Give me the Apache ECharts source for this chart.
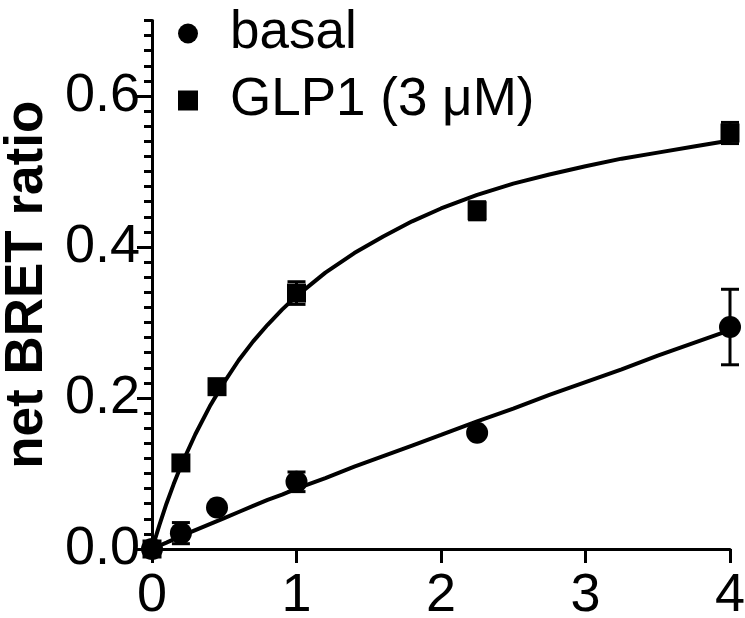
<!DOCTYPE html>
<html>
<head>
<meta charset="utf-8">
<script src="https://cdn.jsdelivr.net/npm/echarts@6/dist/echarts.min.js"></script>
<style>
  html, body { margin: 0; padding: 0; background: #fff; }
  #chart { width: 745px; height: 618px; }
</style>
</head>
<body>
<div id="chart"></div>
<script>
// measured points (x = concentration, y = net BRET ratio)
const pointX = [0, 0.2, 0.45, 1, 2.25, 4];
const basalY = [0, 0.021, 0.055, 0.089, 0.154, 0.294];
const basalErr = [0, 0.014, 0, 0.013, 0, 0.05];
const glpY = [0, 0.114, 0.215, 0.339, 0.448, 0.551];
const glpErr = [0, 0, 0, 0.015, 0.012, 0.014];

// fitted curves
const fitX = [0, 0.05, 0.1, 0.15, 0.2, 0.3, 0.4, 0.5, 0.6, 0.7, 0.8, 0.9, 1, 1.2, 1.4, 1.6, 1.8, 2, 2.25, 2.5, 2.75, 3, 3.25, 3.5, 3.75, 4];
const basalFit = [0, 0.0043, 0.0085, 0.0128, 0.017, 0.025, 0.033, 0.041, 0.049, 0.057, 0.065, 0.072, 0.08, 0.094, 0.109, 0.123, 0.137, 0.151, 0.169, 0.186, 0.204, 0.221, 0.238, 0.256, 0.273, 0.29];
const glpFit = [0, 0.031, 0.06, 0.086, 0.11, 0.152, 0.189, 0.221, 0.25, 0.275, 0.297, 0.317, 0.335, 0.366, 0.392, 0.414, 0.434, 0.451, 0.469, 0.484, 0.496, 0.507, 0.517, 0.525, 0.533, 0.541];

const xTicks = [0, 1, 2, 3, 4];
const yTicks = [0, 0.2, 0.4, 0.6];

const FONT = "'Liberation Sans', Arial, sans-serif";

const pairs = (xs, ys) => xs.map((x, i) => [x, ys[i]]);
const errRows = (ys, errs) => pointX.map((x, i) => [x, ys[i] - errs[i], ys[i] + errs[i]]).filter((r, i) => errs[i] > 0);

const renderErr = function (params, api) {
  const x = api.value(0);
  const lo = api.coord([x, api.value(1)]);
  const hi = api.coord([x, api.value(2)]);
  const cap = 9;
  const style = { stroke: '#000', lineWidth: 3 };
  return {
    type: 'group',
    children: [
      { type: 'line', shape: { x1: lo[0], y1: lo[1], x2: hi[0], y2: hi[1] }, style },
      { type: 'line', shape: { x1: hi[0] - cap, y1: hi[1], x2: hi[0] + cap, y2: hi[1] }, style },
      { type: 'line', shape: { x1: lo[0] - cap, y1: lo[1], x2: lo[0] + cap, y2: lo[1] }, style }
    ]
  };
};

const chart = echarts.init(document.getElementById('chart'), null, { renderer: 'canvas' });

chart.setOption({
  backgroundColor: '#fff',
  animation: false,
  textStyle: { fontFamily: FONT, color: '#000' },
  grid: { left: 152, right: 15, top: 20.5, bottom: 69, containLabel: false, outerBoundsMode: 'none' },
  legend: {
    orient: 'vertical',
    left: 173,
    top: 2,
    itemGap: 14,
    itemWidth: 20,
    itemHeight: 20,
    data: ['basal', 'GLP1 (3 μM)'],
    textStyle: { fontSize: 53, color: '#000', fontFamily: FONT, padding: [0, 0, 0, 27] }
  },
  xAxis: {
    type: 'value',
    min: 0,
    max: 4,
    interval: 1,
    splitLine: { show: false },
    axisLine: { show: true, onZero: false, lineStyle: { color: '#000', width: 3 } },
    axisTick: { show: true, length: 14, lineStyle: { color: '#000', width: 3 }, customValues: xTicks },
    axisLabel: { fontSize: 54, color: '#000', margin: 20, fontFamily: FONT, customValues: xTicks }
  },
  yAxis: [
    {
      // minor ticks every 0.02
      type: 'value',
      position: 'left',
      min: 0,
      max: 0.7,
      interval: 0.02,
      splitLine: { show: false },
      axisLine: { show: true, onZero: false, lineStyle: { color: '#000', width: 3 } },
      axisTick: { show: true, length: 8, lineStyle: { color: '#000', width: 3 } },
      axisLabel: { show: false }
    },
    {
      type: 'value',
      position: 'left',
      offset: 0,
      min: 0,
      max: 0.7,
      splitLine: { show: false },
      axisLine: { show: false, onZero: false },
      axisTick: { show: true, length: 15, lineStyle: { color: '#000', width: 3 }, customValues: yTicks },
      axisLabel: {
        fontSize: 54, color: '#000', margin: 12, fontFamily: FONT,
        customValues: yTicks,
        formatter: v => v.toFixed(1)
      },
      name: 'net BRET ratio',
      nameLocation: 'middle',
      nameGap: 94,
      nameTextStyle: { fontSize: 53, fontWeight: 'bold', color: '#000', fontFamily: FONT }
    }
  ],
  series: [
    {
      name: 'basal fit',
      type: 'line',
      data: pairs(fitX, basalFit),
      showSymbol: false,
      lineStyle: { color: '#000', width: 4 },
      z: 2
    },
    {
      name: 'GLP1 fit',
      type: 'line',
      data: pairs(fitX, glpFit),
      showSymbol: false,
      lineStyle: { color: '#000', width: 4 },
      z: 2
    },
    {
      name: 'basal err',
      type: 'custom',
      renderItem: renderErr,
      data: errRows(basalY, basalErr),
      z: 3
    },
    {
      name: 'GLP1 err',
      type: 'custom',
      renderItem: renderErr,
      data: errRows(glpY, glpErr),
      z: 3
    },
    {
      name: 'basal',
      type: 'scatter',
      symbol: 'circle',
      symbolSize: 22,
      itemStyle: { color: '#000', opacity: 1 },
      data: pairs(pointX, basalY),
      z: 4
    },
    {
      name: 'GLP1 (3 μM)',
      type: 'scatter',
      symbol: 'rect',
      symbolSize: 19,
      itemStyle: { color: '#000', opacity: 1 },
      data: pairs(pointX, glpY),
      z: 4
    }
  ]
});

window.addEventListener('resize', () => chart.resize());
</script>
</body>
</html>
